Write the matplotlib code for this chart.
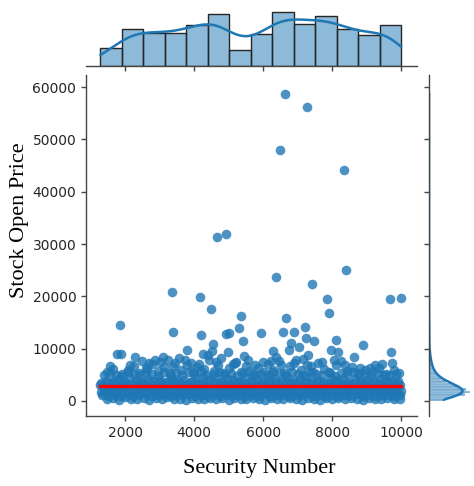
import numpy as np
import matplotlib
matplotlib.use("Agg")
import matplotlib.pyplot as plt
import seaborn as sns

# ---------------- data ----------------
# dense band of securities (estimated positions)
band_x = [1290, 1490, 1660, 1840, 2000, 2180, 2350, 2540, 2700, 2890, 3060, 3230, 3410, 3590, 3760, 3940, 4110, 4290, 4470, 4640,
          4820, 5000, 5170, 5350, 5520, 5700, 5880, 6060, 6230, 6410, 6590, 6770, 6940, 7120, 7300, 7470, 7650, 7830, 8010, 8180,
          8360, 8540, 8720, 8890, 9070, 9250, 9430, 9600, 9780, 9970,
          1400, 1580, 1750, 1930, 2100, 2270, 2450, 2620, 2800, 2970, 3150, 3320, 3500, 3670, 3850, 4030, 4200, 4380, 4550, 4730,
          4910, 5080, 5260, 5430, 5610, 5790, 5970, 6140, 6320, 6500, 6680, 6850, 7030, 7210, 7380, 7560, 7740, 7920, 8100, 8270,
          8450, 8630, 8810, 8980, 9160, 9340, 9510, 9690, 9870, 9990,
          1350, 1530, 1700, 1880, 2050, 2230, 2400, 2580, 2750, 2930, 3100, 3280, 3450, 3630, 3810, 3980, 4160, 4330, 4510, 4690,
          4860, 5040, 5210, 5390, 5570, 5740, 5920, 6100, 6270, 6450, 6630, 6800, 6980, 7160, 7340, 7510, 7690, 7870, 8040, 8220,
          8400, 8580, 8750, 8930, 9110, 9290, 9460, 9640, 9820, 9980,
          1450, 1620, 1800, 1970, 2140, 2320, 2490, 2670, 2840, 3020, 3190, 3370, 3540, 3720, 3900, 4070, 4250, 4420, 4600, 4780,
          4950, 5130, 5300, 5480, 5660, 5830, 6010, 6190, 6360, 6540, 6720, 6890, 7070, 7250, 7420, 7600, 7780, 7960, 8130, 8310,
          8490, 8670, 8840, 9020, 9200, 9380, 9550, 9730, 9910,
          1380, 1560, 1730, 1910, 2080, 2260, 2430, 2610, 2780, 2960, 3130, 3310, 3480, 3660, 3840, 4010, 4190, 4360, 4540, 4720,
          4890, 5070, 5240, 5420, 5600, 5770, 5950, 6130, 6300, 6480, 6660, 6830, 7010, 7190, 7360, 7540, 7720, 7900, 8070, 8250,
          8430, 8610, 8780, 8960, 9140, 9320, 9490, 9670, 9850,
          1340, 1520, 1700, 1880, 2060, 2240, 2420, 2600, 2780, 2960, 3140, 3320, 3500, 3680, 3860, 4040, 4220, 4400, 4580, 4760,
          4940, 5120, 5300, 5480, 5660, 5840, 6020, 6200, 6380, 6560, 6740, 6920, 7100, 7280, 7460, 7640, 7820, 8000, 8180, 8360,
          8540, 8720, 8900, 9080, 9260, 9440, 9620, 9800, 9960,
          1420, 1600, 1780, 1960, 2140, 2320, 2500, 2680, 2860, 3040, 3220, 3400, 3580, 3760, 3940, 4120, 4300, 4480, 4660, 4840,
          5020, 5200, 5380, 5560, 5740, 5920, 6100, 6280, 6460, 6640, 6820, 7000, 7180, 7360, 7540, 7720, 7900, 8080, 8260, 8440,
          8620, 8800, 8980, 9160, 9340, 9520, 9700, 9880,
          1300, 1470, 1640, 1820, 1990, 2170, 2340, 2520, 2690, 2870, 3040, 3220, 3390, 3570, 3740, 3920, 4090, 4270, 4440, 4620,
          4790, 4970, 5140, 5320, 5490, 5670, 5840, 6020, 6190, 6370, 6540, 6720, 6890, 7070, 7240, 7420, 7590, 7770, 7940, 8120,
          8290, 8470, 8640, 8820, 8990, 9170, 9340, 9520, 9690, 9870,
          1310, 1490, 1660, 1840, 2010, 2190, 2360, 2540, 2710, 2890, 3060, 3240, 3410, 3590, 3760, 3940, 4110, 4290, 4460, 4640,
          4810, 4990, 5160, 5340, 5510, 5690, 5860, 6040, 6210, 6390, 6560, 6740, 6910, 7090, 7260, 7440, 7610, 7790, 7960, 8140,
          8310, 8490, 8660, 8840, 9010, 9190, 9360, 9540, 9710, 9890]
band_y = [3100, 310, 540, 280, 700, 450, 330, 610, 260, 520, 390, 680, 300, 470, 250, 560, 410, 290, 640, 350,
          500, 270, 590, 430, 310, 660, 380, 260, 540, 450, 300, 610, 370, 280, 520, 430, 250, 570, 340, 490,
          290, 630, 400, 270, 550, 360, 300, 580, 420, 330,
          1500, 1820, 1350, 1960, 1640, 1420, 2050, 1580, 1880, 1380, 1720, 2010, 1460, 1790, 1550, 1930, 1400, 1700, 2080, 1520,
          1850, 1360, 1990, 1610, 1450, 1900, 1560, 1750, 2030, 1410, 1680, 1950, 1480, 1810, 1370, 1640, 2000, 1530, 1860, 1430,
          1720, 1980, 1390, 1600, 1910, 1470, 1780, 1550, 1370, 1850,
          2900, 2600, 3150, 2750, 3050, 2550, 3250, 2820, 2680, 3100, 2950, 2580, 3200, 2700, 3000, 2620, 3280, 2850, 2540, 3120,
          2780, 3220, 2640, 2980, 3150, 2560, 2870, 3240, 2700, 3060, 2600, 3180, 2910, 2760, 3260, 2580, 2990, 2720, 3130, 2650,
          3020, 2800, 2570, 3190, 2840, 2680, 3100, 2930, 2610, 3050,
          3800, 3600, 4200, 3700, 4400, 3900, 3650, 4300, 3750, 4100, 3550, 4450, 3850, 4000, 3600, 4350, 4500, 3950, 4600, 3700,
          4250, 4050, 3650, 4450, 3800, 4150, 3700, 4550, 4300, 3900, 4400, 3750, 4200, 4500, 3850, 4050, 3600, 4350, 3950, 4150,
          3700, 4300, 3550, 4000, 3800, 4200, 3650, 3900, 3750,
          4900, 5300, 5050, 4800, 5500, 5150, 4950, 5400, 5200, 4850, 5600, 5000, 5350, 4900, 5450, 5100, 5700, 4950, 5250, 5550,
          5000, 5400, 4850, 5300, 5650, 5050, 5200, 4900, 5500, 5350, 5000, 5600, 5150, 4900, 5450, 5250, 5050, 5550, 4800, 5350,
          5100, 5450, 4950, 5200, 4850, 5300, 5000, 4900, 5100,
          1050, 900, 1200, 1000, 1250, 950, 1150, 1300, 920, 1100, 1220, 980, 1180, 1050, 1280, 930, 1120, 1010, 1260, 960,
          1160, 1070, 1240, 910, 1130, 1020, 1270, 990, 1190, 1060, 940, 1210, 1080, 1290, 970, 1140, 1030, 1230, 950, 1170,
          1090, 1250, 920, 1110, 1000, 1200, 1060, 940, 1150,
          2300, 2200, 2450, 2350, 2250, 2500, 2150, 2400, 2280, 2480, 2200, 2380, 2320, 2460, 2180, 2420, 2260, 2500, 2340, 2220,
          2440, 2300, 2190, 2470, 2360, 2240, 2410, 2290, 2490, 2210, 2370, 2330, 2450, 2170, 2400, 2270, 2480, 2230, 2350, 2430,
          2200, 2310, 2460, 2250, 2390, 2180, 2420, 2300,
          3450, 3350, 3550, 3400, 3600, 3300, 3500, 3420, 3580, 3320, 3480, 3380, 3620, 3440, 3340, 3560, 3460, 3360, 3520, 3410,
          3590, 3310, 3470, 3540, 3390, 3610, 3330, 3490, 3430, 3570, 3350, 3510, 3450, 3370, 3600, 3420, 3530, 3300, 3480, 3560,
          3400, 3340, 3500, 3460, 3590, 3320, 3440, 3550, 3380, 3470,
          1750, 1650, 1850, 1700, 1900, 1620, 1800, 1720, 1880, 1680, 1780, 1640, 1860, 1740, 1690, 1920, 1760, 1660, 1840, 1710,
          1890, 1630, 1770, 1820, 1670, 1910, 1730, 1790, 1650, 1870, 1700, 1810, 1750, 1640, 1900, 1720, 1830, 1680, 1780, 1860,
          1690, 1740, 1800, 1660, 1890, 1710, 1760, 1850, 1630, 1780]

# upper, ragged edge of the band
edge_x = [1480, 1650, 1900, 2080, 2250, 2420, 2600, 2780, 2950, 3120, 3300, 3450, 3620, 3800, 3980, 4150, 4300, 4420, 4580, 4700,
          4850, 5020, 5180, 5350, 5500, 5680, 5850, 6020, 6150, 6300, 6450, 6600, 6780, 6950, 7100, 7270, 7450, 7600, 7780, 7950,
          8100, 8250, 8420, 8580, 8750, 8950, 9150, 9350, 9550, 9800, 9950, 3250, 2700, 4400,
          1560, 2150, 2480, 2650, 3000, 3380, 3560, 3920, 4080, 4250, 4650, 4780, 5120, 5560, 5780, 6220, 6380, 6520, 6900, 7150,
          7380, 7700, 8050, 8380, 8800, 9250, 9450]
edge_y = [5600, 6100, 5200, 5900, 6700, 5400, 6300, 7000, 5700, 6500, 5300, 7200, 6000, 6800, 5500, 7000, 6200, 7900, 5800, 6900,
          5300, 6400, 7300, 5600, 6600, 5200, 6300, 5500, 7000, 6000, 7700, 5400, 6600, 7800, 5900, 6900, 5600, 7200, 6100, 5300,
          6800, 7600, 5800, 6500, 5300, 6000, 5500, 6400, 5100, 5900, 5400, 7900, 7300, 8700,
          6600, 6900, 7600, 6200, 7500, 6700, 8200, 7300, 6500, 8900, 7400, 8300, 7000, 7900, 6800, 7600, 8400, 6900, 7300, 8000,
          6700, 7400, 7800, 6900, 6300, 6800, 7100]

# scattered high prices
out_x = [4484, 5354, 1855, 3400, 4203, 4919, 5006, 5304, 5420, 4560, 3806, 4986, 4535, 1777, 1875, 2281, 2878, 3110, 3739, 5208,
         5449, 5942, 6009, 6281, 6580, 6658, 6754, 6820, 6907, 7052, 7209, 7246, 7484, 7313, 7922, 7962, 8125, 8164, 8638, 8890,
         9701, 9730, 9101,
         6647, 7267, 6502, 8339, 4667, 4928, 6386, 8415, 7411, 3371, 4183, 7864, 9690, 10000]
out_y = [17530, 16250, 14590, 13140, 12560, 12810, 13060, 14020, 11470, 10900, 9750, 9310, 9500, 8990, 8990, 8360, 7840, 8470, 7840, 7510,
         8600, 13060, 7510, 9560, 13250, 15810, 9750, 11030, 13140, 10270, 14210, 12110, 11470, 8800, 16770, 9750, 11660, 9430, 8470, 10650,
         9310, 7200, 6250,
         58700, 56270, 48050, 44170, 31300, 32000, 23770, 25050, 22300, 20840, 19950, 19440, 19440, 19700]

# fitted regression line (flat)
reg_intercept = 2870.0
reg_slope = 0.0

# marginal histogram of Security Number (14 bins over the data range)
top_counts = [54, 110, 100, 99, 122, 155, 49, 97, 162, 127, 149, 110, 92, 122]

# marginal histogram of Stock Open Price (500-wide bins from 0 to 10000)
right_counts = [90, 160, 235, 265, 240, 195, 155, 110, 78, 58, 45, 32, 26, 20, 16, 13, 10, 8, 6, 5]
right_binwidth = 500

x_ticks = [2000, 4000, 6000, 8000, 10000]
y_ticks = [0, 10000, 20000, 30000, 40000, 50000, 60000]
x_label = "Security Number"
y_label = "Stock Open Price"

# ---------------- figure ----------------
W, H = 474, 486
fig = plt.figure(figsize=(W / 100, H / 100), dpi=100)


def rect(l, t, r, b):
    return [l / W, 1 - b / H, (r - l) / W, (b - t) / H]


ax = fig.add_axes(rect(86, 75, 417, 416))
ax_top = fig.add_axes(rect(86, 9, 417, 66))
ax_right = fig.add_axes(rect(429, 75, 485, 416))

all_x = np.array(band_x + edge_x + out_x, dtype=float)
all_y = np.array(band_y + edge_y + out_y, dtype=float)

blue = "#1f77b4"
ax.scatter(all_x, all_y, s=48, color=blue, alpha=0.8, linewidths=0, zorder=2)
xr = np.array([all_x.min(), all_x.max()])
ax.plot(xr, reg_intercept + reg_slope * xr, color="red", lw=2.4, zorder=3)

xlim = (870, 10460)
ylim = (-2870, 62330)
ax.set_xlim(xlim)
ax.set_ylim(ylim)
ax.set_xticks(x_ticks)
ax.set_yticks(y_ticks)

spine_c = "#444444"
tick_c = "#262626"
for a in (ax, ax_top, ax_right):
    for s in a.spines.values():
        s.set_color(spine_c)
        s.set_linewidth(1.0)
    a.tick_params(colors=spine_c, labelcolor=tick_c, labelsize=10, width=1.0, length=3.5)

ax.spines["top"].set_visible(False)
ax.spines["right"].set_visible(False)

# top marginal
top_edges = np.linspace(all_x.min(), all_x.max(), len(top_counts) + 1)
top_centers = (top_edges[:-1] + top_edges[1:]) / 2
sns.histplot(x=top_centers, weights=np.array(top_counts, float), bins=top_edges.tolist(), kde=True, ax=ax_top,
             color=blue, alpha=0.5, edgecolor="#262626", linewidth=1.0,
             kde_kws=dict(bw_adjust=0.36, cut=1, clip=(float(top_edges[0]), float(top_edges[-1]))),
             line_kws=dict(linewidth=1.8))
ax_top.set_xlim(xlim)
ax_top.set_ylim(0, max(top_counts) * 57 / 54)
ax_top.set_xticks(x_ticks)
ax_top.tick_params(axis="x", labelbottom=False)
ax_top.tick_params(axis="y", left=False, labelleft=False)
for s in ("top", "left", "right"):
    ax_top.spines[s].set_visible(False)
ax_top.set_xlabel("")
ax_top.set_ylabel("")

# right marginal
n_bins = len(right_counts)
r_centers = [right_binwidth * (i + 0.5) for i in range(n_bins)]
hi = [v for v in out_y if v > right_binwidth * n_bins]
r_vals = np.array(r_centers + hi, dtype=float)
r_w = np.array(right_counts + [1] * len(hi), dtype=float)
r_edges = np.arange(0, max(out_y) + right_binwidth, right_binwidth).tolist()
sns.histplot(y=r_vals, weights=r_w, bins=r_edges, kde=True, ax=ax_right,
             color=blue, alpha=0.6, edgecolor=(1, 1, 1, 0.55), linewidth=0.3,
             kde_kws=dict(bw_adjust=0.35, cut=0),
             line_kws=dict(linewidth=1.8))
ax_right.set_ylim(ylim)
ax_right.set_xlim(0, max(right_counts) * 56 / 41)
ax_right.set_yticks(y_ticks)
ax_right.tick_params(axis="y", labelleft=False)
ax_right.tick_params(axis="x", bottom=False, labelbottom=False)
for s in ("top", "bottom", "right"):
    ax_right.spines[s].set_visible(False)
ax_right.set_xlabel("")
ax_right.set_ylabel("")

# axis labels
serif = ["Liberation Serif", "DejaVu Serif"]
ax.set_xlabel(x_label, fontsize=16, family=serif, va="center")
ax.xaxis.set_label_coords((259 - 86) / 331, (416 - 468) / 341)
ax.set_ylabel(y_label, fontsize=16, family=serif, va="center", ha="center")
ax.yaxis.set_label_coords((20 - 86) / 331, (416 - 220) / 341)

fig.savefig("out.png", dpi=100)
